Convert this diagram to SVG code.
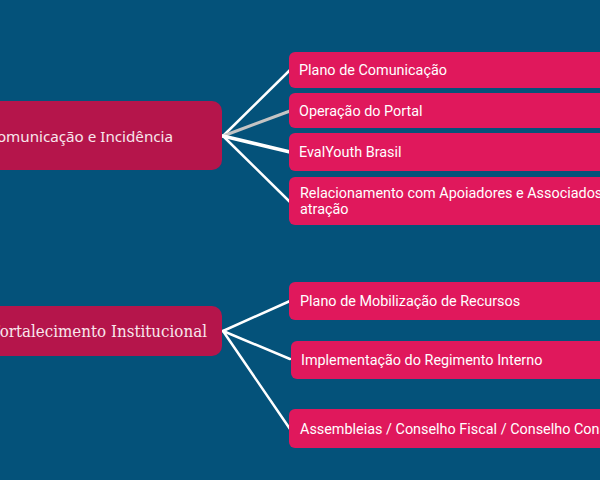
<svg xmlns="http://www.w3.org/2000/svg" width="600" height="480" viewBox="0 0 600 480">
<style>
.parent{fill:#B5154B}
.child{fill:#E0185C}
.pt{fill:#F8E6EC;font-family:"Noto Sans","Open Sans",sans-serif;font-size:15.2px}
.ps{fill:#F8E6EC;font-family:"DejaVu Serif Condensed","DejaVu Serif","Liberation Serif",serif;font-stretch:condensed;font-size:16.8px}
.ct{fill:#FFFFFF;font-family:Roboto,"Liberation Sans",sans-serif;font-size:14.4px}
.edge{stroke:#FFFFFF;stroke-width:2.5;fill:none;stroke-linecap:round}
</style>
<rect width="600" height="480" fill="#04527A"/>
<g id="connectors">
<line class="edge" x1="223" y1="136" x2="290" y2="70"/>
<line class="edge" x1="223" y1="136" x2="290" y2="111" style="stroke:#C4C4C4;stroke-width:3"/>
<line class="edge" x1="223" y1="136" x2="290" y2="152" style="stroke-width:3.5"/>
<line class="edge" x1="223" y1="136" x2="290" y2="202"/>
<line class="edge" x1="223" y1="331" x2="290" y2="301"/>
<line class="edge" x1="223" y1="331" x2="290" y2="359"/>
<line class="edge" x1="223" y1="331" x2="290" y2="429"/>
</g>
<g id="n-comunicacao">
<rect class="parent" x="-60" y="101" width="282" height="69" rx="10"/>
<text class="pt" x="173" y="142" text-anchor="end">Comunicação e Incidência</text>
</g>
<g id="n-plano-com">
<rect class="child" x="289" y="52" width="330" height="36" rx="6"/>
<text class="ct" x="299" y="75">Plano de Comunicação</text>
</g>
<g id="n-portal">
<rect class="child" x="289" y="93" width="330" height="35" rx="6"/>
<text class="ct" x="299" y="116">Operação do Portal</text>
</g>
<g id="n-evalyouth">
<rect class="child" x="289" y="133" width="330" height="38" rx="6"/>
<text class="ct" x="299" y="157">EvalYouth Brasil</text>
</g>
<g id="n-relacionamento">
<rect class="child" x="289" y="177" width="330" height="48" rx="6"/>
<text class="ct" x="300" y="198">Relacionamento com Apoiadores e Associados</text>
<text class="ct" x="300" y="214">atração</text>
</g>
<g id="n-fortalecimento">
<rect class="parent" x="-60" y="306" width="282" height="50" rx="10"/>
<text class="ps" x="207" y="337" text-anchor="end">Fortalecimento Institucional</text>
</g>
<g id="n-mobilizacao">
<rect class="child" x="289" y="282" width="330" height="38" rx="6"/>
<text class="ct" x="300" y="306">Plano de Mobilização de Recursos</text>
</g>
<g id="n-regimento">
<rect class="child" x="291" y="341" width="330" height="38" rx="6"/>
<text class="ct" x="301" y="365">Implementação do Regimento Interno</text>
</g>
<g id="n-assembleias">
<rect class="child" x="289" y="409" width="330" height="39" rx="6"/>
<text class="ct" x="300" y="434">Assembleias / Conselho Fiscal / Conselho Consultivo</text>
</g>
</svg>
